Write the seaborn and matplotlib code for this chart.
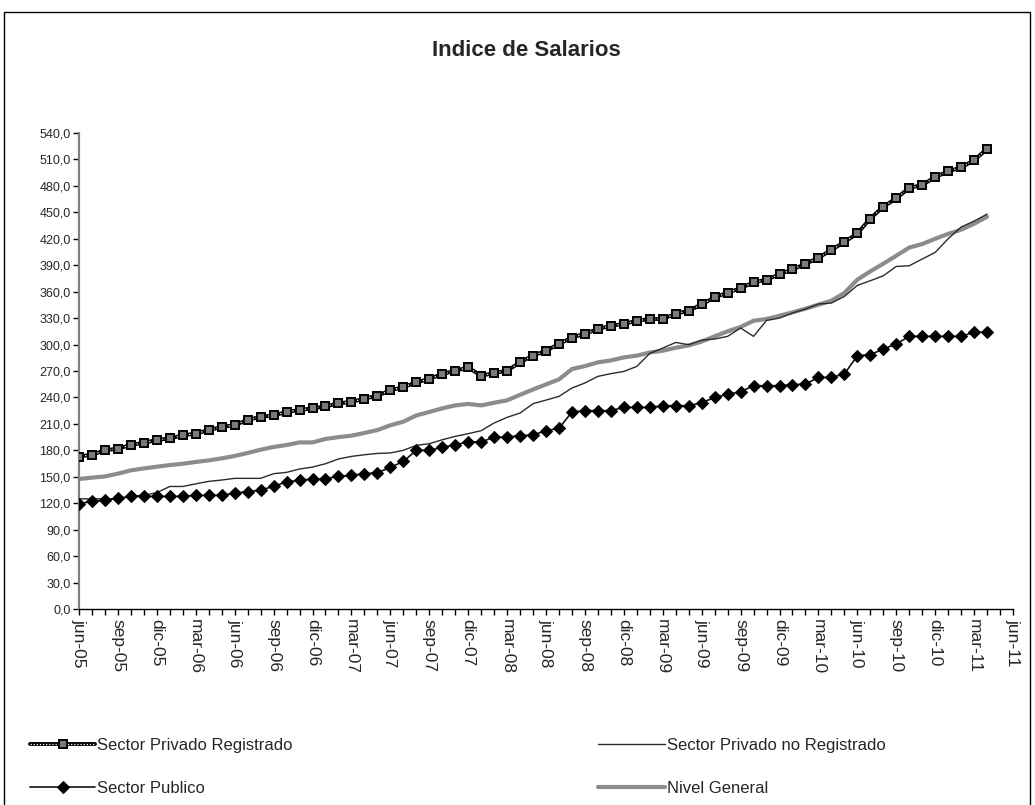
import numpy as np
import pandas as pd
import matplotlib
matplotlib.use("Agg")
import matplotlib.pyplot as plt
import seaborn as sns
from matplotlib.patches import Rectangle
from matplotlib.legend_handler import HandlerTuple

# ---------------- data ----------------
start_month = "2005-06"
n_months = 71

privado_registrado = [173, 175, 180, 182, 186, 188.6, 191.7, 193.5, 197, 199,
                      203, 206.4, 208.7, 214.4, 218, 219.6, 223.5, 225.7, 227.6, 229.8,
                      233.2, 235, 238.6, 242, 248, 251.8, 257, 261, 266.6, 270.3,
                      274, 264.7, 267.7, 270.3, 279.8, 287.4, 293, 300.6, 308, 312.3,
                      317.6, 321.4, 323.3, 327, 329, 329, 335, 338.4, 345.5, 353.5,
                      358.8, 364, 370.5, 373.6, 379.6, 385.3, 391.4, 398.5, 407.3, 416.3,
                      426, 443, 456.4, 465.8, 477.6, 481, 490, 496.4, 501, 509, 522]

privado_no_registrado = [125, 125, 125, 125, 128, 129, 132, 139, 139, 142,
                         144.8, 146.3, 148.2, 148.2, 148.2, 153.5, 155, 158.8, 161, 164.8,
                         170.2, 173.1, 175, 176.5, 177, 180, 185.6, 187.5, 192, 195.8,
                         198.9, 202.3, 211, 217.4, 222.3, 232.9, 237, 241.2, 250.7, 256.4,
                         263.9, 267, 269.5, 275.2, 290, 296, 302.4, 299.8, 305, 306.3,
                         309.3, 318.8, 309.3, 327.4, 330, 335.8, 340.3, 346, 347.1, 354.6,
                         367.1, 372.4, 378, 388.6, 389.4, 397, 404.5, 420, 433.3, 440, 448]

sector_publico = [119.5, 122, 123.6, 125.5, 127.7, 127.7, 127.7, 127.7, 127.7, 128.9,
                  128.9, 128.9, 131.6, 133, 135, 139, 144.4, 145.9, 147.5, 147.8,
                  150.4, 151.6, 153.5, 154.6, 160.6, 167.4, 180, 180, 183.3, 186.4,
                  189.4, 189.4, 195, 195, 196.6, 197.4, 202.3, 205, 223.5, 225,
                  225, 225, 228.7, 228.7, 228.7, 230.6, 230.6, 230.6, 234, 240,
                  243.5, 246.5, 253.3, 253.3, 253.3, 254.5, 255.2, 262.7, 262.7, 266.6,
                  287.4, 288.5, 295, 300.6, 309.3, 309.3, 309.3, 309.3, 309.3, 314, 314]

nivel_general = [147.5, 149, 150.4, 153.5, 157.3, 159.5, 161.4, 163.3, 164.8, 166.8,
                 168.6, 170.9, 173.6, 177, 180.7, 183.8, 186, 189, 189, 192.9,
                 195, 196.6, 199.7, 203, 208.4, 212.5, 219.6, 223.5, 227.6, 231,
                 232.6, 231, 234, 236.7, 243, 249, 254.8, 260.5, 272.2, 275.6,
                 279.8, 282, 285.4, 287.4, 291, 293, 296.4, 299, 303.4, 309.3,
                 315, 320, 327, 329, 332.7, 336.5, 340.7, 345.2, 349.8, 358.5,
                 373.6, 383, 391.7, 400.8, 410, 414, 420, 425.5, 430.3, 437, 445]

tick_labels = ["jun-05", "sep-05", "dic-05", "mar-06", "jun-06", "sep-06", "dic-06",
               "mar-07", "jun-07", "sep-07", "dic-07", "mar-08", "jun-08", "sep-08",
               "dic-08", "mar-09", "jun-09", "sep-09", "dic-09", "mar-10", "jun-10",
               "sep-10", "dic-10", "mar-11", "jun-11"]

series_names = ["Sector Privado Registrado", "Sector Privado no Registrado",
                "Sector Publico", "Nivel General"]
y_ticks = list(range(0, 541, 30))

# ---------------- frame ----------------
months = pd.period_range(start_month, periods=n_months, freq="M")
x = np.arange(len(months))
df = pd.DataFrame({"x": x,
                   series_names[0]: privado_registrado,
                   series_names[1]: privado_no_registrado,
                   series_names[2]: sector_publico,
                   series_names[3]: nivel_general})

sns.set_theme(style="white")
plt.rcParams["font.family"] = ["Liberation Sans", "DejaVu Sans"]

W, H = 1035, 805
fig = plt.figure(figsize=(W / 100, H / 100), dpi=100)
fig.patch.set_facecolor("white")

ax = fig.add_axes([79 / W, (H - 609) / H, (1013 - 79) / W, (609 - 133) / H])

# Nivel General (thick gray)
sns.lineplot(data=df, x="x", y=series_names[3], ax=ax, color="#8c8c8c",
             lw=3.0, zorder=2)
# Privado no registrado (thin dark)
sns.lineplot(data=df, x="x", y=series_names[1], ax=ax, color="#2b2b2b",
             lw=1.0, zorder=3)
# Sector publico (diamonds)
sns.lineplot(data=df, x="x", y=series_names[2], ax=ax, color="#111111",
             lw=1.2, marker="D", markersize=5.8, markerfacecolor="black",
             markeredgecolor="black", zorder=4)
# Privado registrado (patterned line + squares)
sns.lineplot(data=df, x="x", y=series_names[0], ax=ax, color="black",
             lw=2.8, marker="s", markersize=6, markerfacecolor="#7a7a7a",
             markeredgecolor="black", markeredgewidth=1.3, zorder=5)
sns.lineplot(data=df, x="x", y=series_names[0], ax=ax, color="white",
             lw=0.9, linestyle=(0, (1, 1.5)), zorder=6)
sns.lineplot(data=df, x="x", y=series_names[0], ax=ax, color="black",
             lw=0, marker="s", markersize=6, markerfacecolor="#7a7a7a",
             markeredgecolor="black", markeredgewidth=1.3, zorder=7)

lines = ax.get_lines()
h_nivel, h_norg, h_pub, h_reg_a, h_reg_b, h_reg_c = lines[:6]

ax.set_xlim(0, 72)
ax.set_ylim(0, 540)
ax.set_xlabel("")
ax.set_ylabel("")

ax.set_yticks(y_ticks)
ax.set_yticklabels([f"{v:.1f}".replace(".", ",") for v in y_ticks],
                   fontsize=9)
ax.set_xticks(np.arange(0, 73, 3))
ax.set_xticklabels(tick_labels, rotation=-90, fontsize=12.5, va="top",
                   ha="center")
ax.set_xticks(np.arange(0, 73, 1), minor=True)
ax.tick_params(axis="y", which="major", direction="out", length=4, width=1,
               color="black", pad=2, left=True)
ax.tick_params(axis="x", which="both", direction="out", length=4, width=1,
               color="black", bottom=True, pad=3)
for s in ["top", "right"]:
    ax.spines[s].set_visible(False)
ax.spines["left"].set_color("#808080")
ax.spines["left"].set_linewidth(1.6)
ax.spines["bottom"].set_color("black")
ax.spines["bottom"].set_linewidth(1.0)
ax.grid(False)
if ax.get_legend():
    ax.get_legend().remove()

fig.text(526 / W, (H - 50) / H, "Indice de Salarios", ha="center",
         va="center", fontsize=16, fontweight="bold")

# legends (two columns)
hmap = {tuple: HandlerTuple(ndivide=1, pad=0)}
leg1 = fig.legend(handles=[(h_reg_a, h_reg_b, h_reg_c), h_pub],
                  labels=[series_names[0], series_names[2]],
                  loc="center left", bbox_to_anchor=(30 / W, (H - 767) / H),
                  frameon=False, fontsize=12, handlelength=3.9,
                  handletextpad=0.12, labelspacing=1.7, borderpad=0,
                  borderaxespad=0, handler_map=hmap)
leg2 = fig.legend(handles=[h_norg, h_nivel],
                  labels=[series_names[1], series_names[3]],
                  loc="center left", bbox_to_anchor=(598 / W, (H - 767) / H),
                  frameon=False, fontsize=12, handlelength=4.0,
                  handletextpad=0.12, labelspacing=1.7, borderpad=0,
                  borderaxespad=0)

# outer chart border
fig.patches.append(Rectangle((4 / W, -0.05), (1030 - 4) / W, (H - 12) / H + 0.05,
                             transform=fig.transFigure, fill=False,
                             edgecolor="black", lw=1.0))

fig.savefig("out.png", dpi=100)
